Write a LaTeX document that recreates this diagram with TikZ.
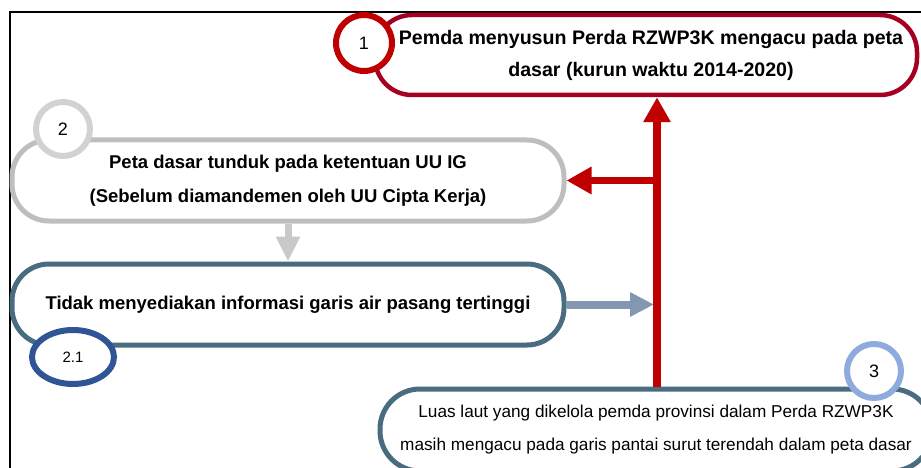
\documentclass[tikz,border=0pt]{standalone}
\usepackage{fontspec}
\setmainfont{Liberation Sans}
\usepackage{tikz}
\usetikzlibrary{arrows.meta, positioning, calc, shapes.geometric}
\definecolor{perdared}{RGB}{165, 0, 33}
\definecolor{numred}{RGB}{192, 0, 0}
\definecolor{uugray}{RGB}{190, 190, 190}
\definecolor{numgray}{RGB}{210, 210, 210}
\definecolor{steel}{RGB}{74, 108, 128}
\definecolor{numblue}{RGB}{47, 85, 151}
\definecolor{lightblue}{RGB}{143, 170, 220}
\definecolor{flowgray}{RGB}{132, 151, 176}
\definecolor{downgray}{RGB}{201, 201, 201}

\begin{document}
\begin{tikzpicture}[
  x=1pt, y=-1pt,
  box/.style={draw, fill=white, rounded corners=37pt, align=center, inner sep=0pt},
  numcirc/.style={draw, fill=white, circle, line width=6pt, inner sep=0pt, minimum size=54pt, font=\fontsize{18}{20}\selectfont},
  bigarrow/.style={line width=7.5pt, -{Triangle[width=26pt, length=25pt]}}
]
  \clip (0,0) rectangle (921,468);
  \useasboundingbox (0,0) rectangle (921,468);

  \draw[line width=1.5pt] (10,468) -- (10,12) -- (921,12);

  \node[box, draw=perdared, line width=4.5pt, minimum width=542pt, minimum height=80pt,
        font=\fontsize{19.6}{32}\selectfont\bfseries] (perda) at (646,55)
        {\hspace*{10pt}Pemda menyusun Perda RZWP3K mengacu pada peta\\\hspace*{10pt}dasar (kurun waktu 2014-2020)};
  \node[box, draw=uugray, line width=5pt, minimum width=552pt, minimum height=81pt,
        font=\fontsize{18.5}{34}\selectfont\bfseries] (uuig) at (288,180.5)
        {Peta dasar tunduk pada ketentuan UU IG\\(Sebelum diamandemen oleh UU Cipta Kerja)};
  \node[box, draw=steel, line width=5pt, minimum width=552pt, minimum height=81pt,
        font=\fontsize{18.5}{22}\selectfont\bfseries] (pasang) at (288,304.5)
        {Tidak menyediakan informasi garis air pasang tertinggi};
  \node[box, draw=steel, line width=5pt, minimum width=552pt, minimum height=82pt,
        rounded corners=40pt, font=\fontsize{17.2}{33}\selectfont] (luas) at (656,430)
        {Luas laut yang dikelola pemda provinsi dalam Perda RZWP3K\\masih mengacu pada garis pantai surut terendah dalam peta dasar};

  \coordinate (trunk) at (657,0);
  \draw[bigarrow, numred] (luas.north -| trunk) -- (perda.south -| trunk);
  \draw[bigarrow, numred, shorten <=-3.75pt] (trunk |- uuig.east) -- (uuig.east);
  \draw[downgray, line width=7pt, -{Triangle[width=23pt, length=25pt]}] (uuig.south) -- (pasang.north);
  \draw[flowgray, line width=8pt, -{Triangle[width=23pt, length=24pt]}, shorten >=3pt] (pasang.east) -- (trunk |- pasang.east);

  \node[numcirc, draw=numred, minimum size=56pt] (n1) at (364,43) {1};
  \node[numcirc, draw=numgray] (n2) at (63,129) {2};
  \node[numcirc, draw=numblue, ellipse, minimum width=82pt, minimum height=54pt,
        font=\fontsize{15}{17}\selectfont] (n21) at (73,357) {2.1};
  \node[numcirc, draw=lightblue] (n3) at (874,371) {3};
\end{tikzpicture}
\end{document}
